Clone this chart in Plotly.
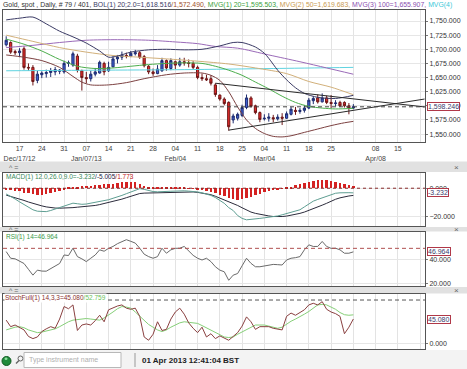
import pandas as pd
import plotly.graph_objects as go
from plotly.subplots import make_subplots

# ---------------- data ----------------
days = [d.strftime("%Y-%m-%d") for d in pd.bdate_range("2012-12-12", "2013-04-24")]
n_bars = 79
bar_days = days[:n_bars]

opens = [1708, 1712, 1696, 1694, 1701, 1668, 1668, 1645, 1655, 1657,
         1659, 1660, 1661, 1660, 1675, 1672, 1688, 1662, 1650, 1648,
         1656, 1658, 1675, 1662, 1669, 1683, 1686, 1689, 1688, 1692,
         1694, 1687, 1670, 1660, 1657, 1662, 1680, 1666, 1678, 1672,
         1678, 1676, 1675, 1668, 1650, 1648, 1648, 1637, 1619, 1612,
         1606, 1575, 1578, 1583, 1597, 1614, 1600, 1588, 1577, 1578,
         1579, 1577, 1580, 1578, 1585, 1592, 1590, 1592, 1596, 1609,
         1614, 1607, 1614, 1606, 1604, 1606, 1606, 1600, 1596]
highs = [1723, 1714, 1699, 1702, 1705, 1675, 1672, 1662, 1661, 1664,
         1667, 1669, 1665, 1680, 1680, 1696, 1692, 1664, 1660, 1662,
         1667, 1680, 1678, 1678, 1688, 1690, 1696, 1694, 1697, 1699,
         1697, 1690, 1672, 1666, 1672, 1685, 1682, 1684, 1680, 1685,
         1685, 1682, 1679, 1671, 1657, 1655, 1654, 1640, 1620, 1615,
         1608, 1586, 1588, 1602, 1620, 1617, 1602, 1590, 1585, 1587,
         1584, 1585, 1587, 1590, 1598, 1598, 1596, 1601, 1614, 1617,
         1620, 1622, 1618, 1619, 1610, 1609, 1608, 1605, 1603]
lows = [1705, 1692, 1690, 1686, 1664, 1662, 1636, 1640, 1649, 1650,
        1651, 1654, 1656, 1657, 1669, 1669, 1659, 1627, 1640, 1643,
        1652, 1657, 1654, 1660, 1668, 1675, 1681, 1684, 1686, 1689,
        1683, 1668, 1656, 1653, 1656, 1660, 1662, 1663, 1665, 1669,
        1671, 1668, 1665, 1647, 1644, 1644, 1636, 1616, 1609, 1601,
        1556, 1569, 1574, 1580, 1594, 1597, 1585, 1571, 1574, 1572,
        1571, 1574, 1566, 1577, 1583, 1584, 1586, 1588, 1594, 1603,
        1604, 1606, 1603, 1596, 1599, 1598, 1597, 1585, 1594]
closes = [1716, 1695, 1694, 1697, 1668, 1667, 1643, 1656, 1658, 1659,
          1662, 1664, 1663, 1675, 1676, 1692, 1663, 1650, 1648, 1656,
          1660, 1677, 1660, 1668, 1683, 1686, 1690, 1688, 1693, 1694,
          1686, 1671, 1660, 1657, 1665, 1680, 1667, 1680, 1672, 1678,
          1676, 1675, 1668, 1650, 1648, 1646, 1640, 1620, 1612, 1604,
          1563, 1582, 1585, 1597, 1614, 1599, 1588, 1576, 1578, 1580,
          1577, 1580, 1578, 1586, 1594, 1590, 1592, 1596, 1610, 1613,
          1607, 1614, 1606, 1604, 1605, 1600, 1600, 1596, 1598.246]

# overlay lines: (bar index, value)
bol_upper_idx = [0, 3, 6, 9, 12, 15, 18, 21, 23, 25, 28, 32, 36, 40, 44, 48, 51, 53, 56, 58, 59, 61, 63, 65, 67, 70, 74, 78]
bol_upper = [1752, 1755, 1757, 1745, 1732, 1722, 1711, 1697, 1686, 1688, 1695, 1699, 1700, 1699, 1700, 1706, 1712, 1712,
             1704, 1693, 1684, 1663, 1646, 1632, 1622, 1615, 1613, 1618.516]
bol_lower_idx = [0, 4, 8, 12, 15, 17, 19, 23, 27, 31, 36, 40, 44, 46, 48, 50, 52, 54, 56, 58, 60, 62, 64, 67, 70, 73, 76, 78]
bol_lower = [1690, 1686, 1680, 1668, 1652, 1642, 1637, 1637, 1641, 1648, 1655, 1658, 1658, 1654, 1645, 1625, 1598, 1575,
             1560, 1551, 1546, 1545, 1547, 1553, 1559, 1565, 1570, 1572.490]
ma20_idx = [0, 4, 8, 12, 16, 20, 24, 28, 32, 36, 40, 44, 47, 50, 53, 56, 59, 62, 65, 68, 71, 74, 78]
ma20 = [1718, 1709, 1697, 1682, 1670, 1666, 1667, 1670, 1673, 1675, 1676, 1675, 1670, 1663, 1654, 1642, 1630, 1617,
        1606, 1599, 1596, 1594.5, 1595.503]
ma50_idx = [0, 6, 12, 18, 24, 30, 36, 43, 50, 56, 63, 68, 73, 78]
ma50 = [1725, 1714, 1703, 1695, 1689, 1686, 1683, 1679, 1674, 1667, 1657, 1643, 1633, 1619.683]
ma100_idx = [0, 6, 12, 18, 25, 32, 38, 43, 47, 52, 59, 66, 72, 78]
ma100 = [1703, 1707, 1712, 1716, 1717, 1716, 1713, 1710, 1705, 1702, 1690, 1678, 1667, 1655.907]
ma200_idx = [0, 20, 40, 60, 78]
ma200 = [1662, 1663, 1664, 1666, 1668]

tri_upper_days = ["2013-02-15", "2013-04-23"]
tri_upper = [1640, 1598]
tri_lower_days = ["2013-02-20", "2013-04-23"]
tri_lower = [1557, 1612]

macd_line = [-4.0, -5.5, -7.5, -9.5, -11.5, -13.5, -15.0, -16.0, -16.3, -16.3,
             -15.5, -14.5, -13.2, -12.0, -11.0, -10.4, -10.8, -11.2, -11.0, -10.5,
             -9.8, -9.3, -8.8, -8.0, -7.0, -6.2, -5.0, -3.8, -2.6, -1.3,
             -0.3, -0.8, -1.6, -2.3, -2.5, -2.2, -2.2, -2.1, -2.0, -1.8,
             -1.8, -2.0, -2.2, -2.6, -3.2, -4.0, -5.0, -6.5, -8.5, -10.5,
             -13.5, -15.5, -19.0, -21.0, -22.0, -21.8, -21.4, -21.0, -20.6, -20.3,
             -19.9, -19.3, -18.5, -17.6, -16.7, -15.8, -15.0, -13.0, -11.0, -9.0,
             -7.8, -6.7, -5.5, -4.2, -3.5, -3.2, -3.0, -3.1, -3.232]
macd_signal = [-4.8, -5.6, -6.5, -7.5, -8.5, -9.6, -10.6, -11.5, -12.3, -13.0,
               -13.5, -13.8, -13.9, -13.9, -13.8, -13.5, -13.2, -13.0, -12.9, -12.5,
               -12.0, -11.4, -10.7, -10.1, -9.4, -8.5, -7.6, -6.6, -5.6, -4.6,
               -3.7, -3.4, -3.3, -3.2, -3.1, -3.0, -2.9, -2.8, -2.7, -2.6,
               -2.5, -2.5, -2.6, -2.9, -3.3, -3.7, -4.5, -5.6, -6.8, -8.0,
               -9.3, -10.6, -12.0, -13.6, -15.2, -16.6, -17.5, -18.2, -18.8, -19.3,
               -19.7, -19.8, -19.7, -19.4, -18.9, -18.3, -17.5, -16.6, -15.5, -14.3,
               -13.1, -11.8, -10.5, -8.9, -7.7, -6.7, -5.9, -5.4, -5.005]
macd_hist = [-0.8, -1.2, -1.6, -2.0, -3.0, -3.6, -4.2, -4.6, -4.5, -4.0,
             -3.2, -2.6, -2.0, -0.8, 0.4, 0.9, 1.2, 1.5, 1.6, 1.9,
             2.3, 2.5, 2.6, 2.8, 3.2, 3.6, 4.1, 4.5, 4.6, 4.3,
             3.2, 1.5, 0.6, 0.3, 0.2, 0.3, 0.2, 0.3, 0.3, 0.4,
             0.3, 0.1, -0.3, -0.6, -1.0, -1.8, -2.6, -3.5, -4.5, -5.5,
             -6.6, -7.5, -8.0, -7.6, -6.8, -5.8, -4.8, -3.8, -2.8, -2.0,
             -1.3, -0.6, -0.2, 0.5, 1.2, 2.0, 2.8, 3.6, 4.4, 5.0,
             5.5, 5.7, 5.6, 5.0, 4.4, 3.6, 2.9, 2.3, 1.773]
rsi = [47.2, 41.5, 41.0, 39.0, 37.0, 32.0, 27.0, 31.3, 30.5, 30.4,
       32.8, 35.1, 37.0, 44.3, 43.8, 50.1, 42.9, 41.0, 38.6, 41.5,
       44.3, 48.7, 47.5, 50.0, 51.6, 54.0, 55.5, 57.4, 56.0, 54.5,
       50.1, 45.0, 42.9, 41.5, 42.9, 50.1, 45.8, 48.7, 50.0, 50.1,
       51.6, 48.0, 44.0, 41.5, 40.0, 41.5, 38.6, 34.2, 31.3, 29.9,
       22.6, 27.0, 28.4, 35.0, 41.5, 37.1, 34.2, 34.2, 35.0, 35.7,
       36.2, 36.0, 35.7, 40.0, 41.5, 42.0, 42.9, 48.7, 53.0, 51.6,
       51.6, 55.9, 51.6, 50.0, 50.1, 48.7, 45.8, 45.8, 46.964]
stoch_k = [43, 31, 34, 29, 25, 13, 9, 12, 22, 27,
           31, 28, 45, 68, 64, 71, 24, 34, 36, 34,
           42, 52, 40, 62, 66, 69, 71, 65, 63, 65,
           50, 12, 6, 17, 40, 24, 26, 45, 58, 65,
           54, 38, 28, 20, 30, 12, 18, 9, 14, 10,
           6, 13, 20, 32, 49, 40, 26, 31, 31, 31,
           28, 26, 25, 50, 56, 52, 57, 62, 71, 74,
           71, 77, 63, 58, 55, 50, 18, 30, 45.080]
stoch_d = [25, 28, 30, 31, 29, 25, 22, 20, 21, 23,
           25, 27, 31, 36, 40, 43, 44, 45, 46, 45,
           44, 43, 47, 52, 58, 64, 68, 67, 65, 58,
           50, 42, 35, 30, 25, 22, 25, 30, 34, 38,
           40, 39, 38, 37, 33, 29, 25, 20, 16, 12,
           11, 12, 17, 21, 25, 30, 34, 34, 34, 32,
           30, 28, 30, 36, 41, 45, 49, 54, 59, 65,
           71, 72, 71, 67, 63, 57, 53, 52, 52.759]

rsi_level = 50
stoch_level = 80
macd_level = 0

week_ticks = ["2012-12-17", "2012-12-24", "2012-12-31", "2013-01-07", "2013-01-14", "2013-01-21",
              "2013-01-28", "2013-02-04", "2013-02-11", "2013-02-18", "2013-02-25", "2013-03-04",
              "2013-03-11", "2013-03-18", "2013-03-25", "2013-04-01", "2013-04-08", "2013-04-15",
              "2013-04-22"]
week_labels = ["17<br>Dec/17/12", "24", "31", "07<br>Jan/07/13", "14", "21", "28", "04<br>Feb/04",
               "11", "18", "25", "04<br>Mar/04", "11", "18", "25", "", "08<br>Apr/08", "15", ""]

# ---------------- figure ----------------
W, H = 467, 369
ML, MR = 3, 42
PW = W - ML - MR
FONT = "Liberation Sans, Arial, sans-serif"


def px(x):
    return (x - ML) / PW


def py(y):
    return 1 - y / H


def dom(top, bottom):
    return [1 - bottom / H, 1 - top / H]


fig = make_subplots(rows=4, cols=1, shared_xaxes=True, vertical_spacing=0.02)


def pts(idx):
    return [days[i] for i in idx]


line_specs = [
    (pts(ma200_idx), ma200, "#5fd3e0"),
    (pts(ma100_idx), ma100, "#9a6ab8"),
    (pts(ma50_idx), ma50, "#d2b07a"),
    (pts(ma20_idx), ma20, "#4cae4c"),
    (pts(bol_upper_idx), bol_upper, "#3a3a64"),
    (pts(bol_lower_idx), bol_lower, "#7c4040"),
]
for xs, ys, col in line_specs:
    fig.add_trace(go.Scatter(x=xs, y=ys, mode="lines", line=dict(color=col, width=1, shape="spline", smoothing=0.8),
                             showlegend=False, hoverinfo="skip"), row=1, col=1)

for xs, ys in [(tri_upper_days, tri_upper), (tri_lower_days, tri_lower)]:
    fig.add_trace(go.Scatter(x=xs, y=ys, mode="lines", line=dict(color="#2a2a2a", width=1),
                             showlegend=False, hoverinfo="skip"), row=1, col=1)

fig.add_trace(go.Candlestick(
    x=bar_days, open=opens, high=highs, low=lows, close=closes,
    increasing=dict(line=dict(color="#1e2c6e", width=1), fillcolor="#3f5fd4"),
    decreasing=dict(line=dict(color="#6e1818", width=1), fillcolor="#e02a2a"),
    whiskerwidth=0, showlegend=False, hoverinfo="skip"), row=1, col=1)

fig.add_hline(y=closes[-1], line=dict(color="#444", width=1, dash="4px,3px"), row=1, col=1)

# MACD
fig.add_trace(go.Bar(x=bar_days, y=macd_hist, marker_color="#d42222", marker_line_width=0, width=0.55,
                     showlegend=False, hoverinfo="skip"), row=2, col=1)
fig.add_trace(go.Scatter(x=bar_days, y=macd_signal, mode="lines", line=dict(color="#2c2c3c", width=1),
                         showlegend=False, hoverinfo="skip"), row=2, col=1)
fig.add_trace(go.Scatter(x=bar_days, y=macd_line, mode="lines", line=dict(color="#5e9e92", width=1),
                         showlegend=False, hoverinfo="skip"), row=2, col=1)
fig.add_hline(y=macd_level, line=dict(color="#8a2a2a", width=1, dash="3px,3px"), row=2, col=1)

# RSI
fig.add_trace(go.Scatter(x=bar_days, y=rsi, mode="lines", line=dict(color="#6a6a6a", width=1),
                         showlegend=False, hoverinfo="skip"), row=3, col=1)
fig.add_hline(y=rsi_level, line=dict(color="#b05050", width=1, dash="4px,3px"), row=3, col=1)

# Stochastic
fig.add_trace(go.Scatter(x=bar_days, y=stoch_d, mode="lines", line=dict(color="#86cf78", width=1),
                         showlegend=False, hoverinfo="skip"), row=4, col=1)
fig.add_trace(go.Scatter(x=bar_days, y=stoch_k, mode="lines", line=dict(color="#8a4040", width=1),
                         showlegend=False, hoverinfo="skip"), row=4, col=1)
fig.add_hline(y=stoch_level, line=dict(color="#555", width=1, dash="4px,3px"), row=4, col=1)

# ---------------- axes ----------------
xcommon = dict(type="category", categoryorder="array", categoryarray=days, range=[-0.72, 94.1],
               tickmode="array", tickvals=week_ticks, ticktext=week_labels,
               showgrid=True, gridcolor="#e3e3e3", gridwidth=1, ticks="",
               showline=True, mirror=True, linecolor="#555", linewidth=1,
               tickfont=dict(size=7, color="#444", family=FONT), automargin=False, fixedrange=True)
for k in ["xaxis", "xaxis2", "xaxis3", "xaxis4"]:
    fig.update_layout({k: dict(xcommon, showticklabels=(k == "xaxis"))})
fig.update_layout(xaxis_rangeslider_visible=False)

ycommon = dict(side="right", tickformat=",.3f", ticks="outside", ticklen=2, tickcolor="#777",
               tickfont=dict(size=7, color="#333", family=FONT), showgrid=True, gridcolor="#e6e6e6",
               showline=True, mirror=True, linecolor="#555", linewidth=1, zeroline=False,
               automargin=False, fixedrange=True)
fig.update_layout(
    yaxis=dict(ycommon, domain=dom(10, 142), range=[1536, 1769.5], tickmode="linear", tick0=1550, dtick=25),
    yaxis2=dict(ycommon, domain=dom(173, 226), range=[-26.3, 10.6], tickmode="array", tickvals=[0, -20]),
    yaxis3=dict(ycommon, domain=dom(232, 286), range=[17.7, 64.0], tickmode="array", tickvals=[20, 40]),
    yaxis4=dict(ycommon, domain=dom(294, 348.5), range=[-9.2, 91.1], tickmode="array", tickvals=[0]),
)

# ---------------- decorations ----------------
shapes = []
for top, bot in [(161.5, 172), (227, 231.5), (287, 293.5)]:
    shapes.append(dict(type="rect", xref="paper", yref="paper", x0=px(0), x1=px(W), y0=py(bot), y1=py(top),
                       fillcolor="#e1e1e1", line=dict(width=0), layer="below"))
# status bar
shapes.append(dict(type="rect", xref="paper", yref="paper", x0=px(0), x1=px(W), y0=py(H), y1=py(350),
                   fillcolor="#f3f3f3", line=dict(width=0), layer="below"))
shapes.append(dict(type="circle", xref="paper", yref="paper", x0=px(2), x1=px(11), y0=py(365.5), y1=py(356.5),
                   fillcolor="#1f8a3a", line=dict(color="#0f5a20", width=1)))
shapes.append(dict(type="circle", xref="paper", yref="paper", x0=px(4.5), x1=px(7.5), y0=py(360), y1=py(357.5),
                   fillcolor="#8fe0a0", line=dict(width=0)))
shapes.append(dict(type="circle", xref="paper", yref="paper", x0=px(18), x1=px(23), y0=py(361), y1=py(356),
                   fillcolor="rgba(0,0,0,0)", line=dict(color="#666", width=1)))
shapes.append(dict(type="line", xref="paper", yref="paper", x0=px(16), x1=px(19), y0=py(363.5), y1=py(360.5),
                   line=dict(color="#666", width=1.5)))
shapes.append(dict(type="rect", xref="paper", yref="paper", x0=px(24), x1=px(121), y0=py(367.5), y1=py(352.5),
                   fillcolor="white", line=dict(color="#b8b8b8", width=1)))
shapes.append(dict(type="line", xref="paper", yref="paper", x0=px(135), x1=px(135), y0=py(367), y1=py(353),
                   line=dict(color="#999", width=1)))
fig.update_layout(shapes=list(fig.layout.shapes) + shapes)

ann = []
title_html = ("Gold, spot , Daily, # 79 / 401, <span style='color:#3a3a64'>BOL(1) 20;2.0=%s</span>"
              "<span style='color:#a0502a'>/%s,</span> "
              "<span style='color:#3aa03a'>MVG(1) 20=%s,</span> "
              "<span style='color:#c89a50'>MVG(2) 50=%s,</span> "
              "<span style='color:#8a50b0'>MVG(3) 100=%s,</span> "
              "<span style='color:#40c8d8'>MVG(4)</span>") % (
    f"{bol_upper[-1]:,.3f}", f"{bol_lower[-1]:,.3f}", f"{ma20[-1]:,.3f}", f"{ma50[-1]:,.3f}", f"{ma100[-1]:,.3f}")
ann.append(dict(text=title_html, xref="paper", yref="paper", x=px(1), y=py(5), xanchor="left", yanchor="middle",
                showarrow=False, font=dict(size=6.9, color="#333", family=FONT)))

macd_html = ("<span style='color:#3a8a5a'>MACD(1) 12.0,26.0,9.0=%.3f</span>"
             "<span style='color:#222244'>/%.3f</span><span style='color:#c02020'>/%.3f</span>") % (
    macd_line[-1], macd_signal[-1], macd_hist[-1])
ann.append(dict(text=macd_html, xref="paper", yref="paper", x=px(4), y=py(177), xanchor="left", yanchor="middle",
                showarrow=False, font=dict(size=6.5, family=FONT)))
ann.append(dict(text="RSI(1) 14=%.3f" % rsi[-1], xref="paper", yref="paper", x=px(4), y=py(236.5),
                xanchor="left", yanchor="middle", showarrow=False, font=dict(size=6.5, color="#3a9a4a", family=FONT)))
stoch_html = ("<span style='color:#8a3030'>StochFull(1) 14,3,3=%.3f</span>"
              "<span style='color:#6abf5a'>/%.3f</span>") % (stoch_k[-1], stoch_d[-1])
ann.append(dict(text=stoch_html, xref="paper", yref="paper", x=px(4), y=py(298), xanchor="left",
                yanchor="middle", showarrow=False, bgcolor="white", borderpad=0,
                font=dict(size=6.5, family=FONT)))

# value boxes on the right axis
for yref, val in [("y", closes[-1]), ("y2", macd_line[-1]), ("y3", rsi[-1]), ("y4", stoch_k[-1])]:
    ann.append(dict(text=f"{val:,.3f}", xref="paper", yref=yref, x=1, y=val, xanchor="left", yanchor="middle",
                    xshift=2, showarrow=False, bgcolor="white", bordercolor="#b03848", borderwidth=1, borderpad=0,
                    font=dict(size=7, color="#3a3a6a", family=FONT)))

# panel bar icons
for ycen in [167, 229, 290]:
    ann.append(dict(text="^ =", xref="paper", yref="paper", x=px(7), y=py(ycen), xanchor="left",
                    yanchor="middle", showarrow=False, font=dict(size=7, color="#666", family=FONT)))
    ann.append(dict(text="\u00d7", xref="paper", yref="paper", x=px(456), y=py(ycen), xanchor="center",
                    yanchor="middle", showarrow=False, font=dict(size=8, color="#666", family=FONT)))

ann.append(dict(text="Type instrument name", xref="paper", yref="paper", x=px(27), y=py(360), xanchor="left",
                yanchor="middle", showarrow=False, font=dict(size=7, color="#b0b0b0", family=FONT)))
ann.append(dict(text="<b>01 Apr 2013 12:41:04 BST</b>", xref="paper", yref="paper", x=px(140), y=py(360),
                xanchor="left", yanchor="middle", showarrow=False, font=dict(size=8, color="#222", family=FONT)))
fig.update_layout(annotations=ann)

fig.update_layout(
    width=W, height=H, margin=dict(l=ML, r=MR, t=0, b=0, pad=0),
    paper_bgcolor="white", plot_bgcolor="white", showlegend=False, bargap=0,
    font=dict(family=FONT, size=7, color="#333"),
)

fig.write_html("out.html", config={"displayModeBar": False},
               post_script="document.body.style.margin='0';document.body.style.padding='0';"
                           "document.body.style.overflow='hidden';")
